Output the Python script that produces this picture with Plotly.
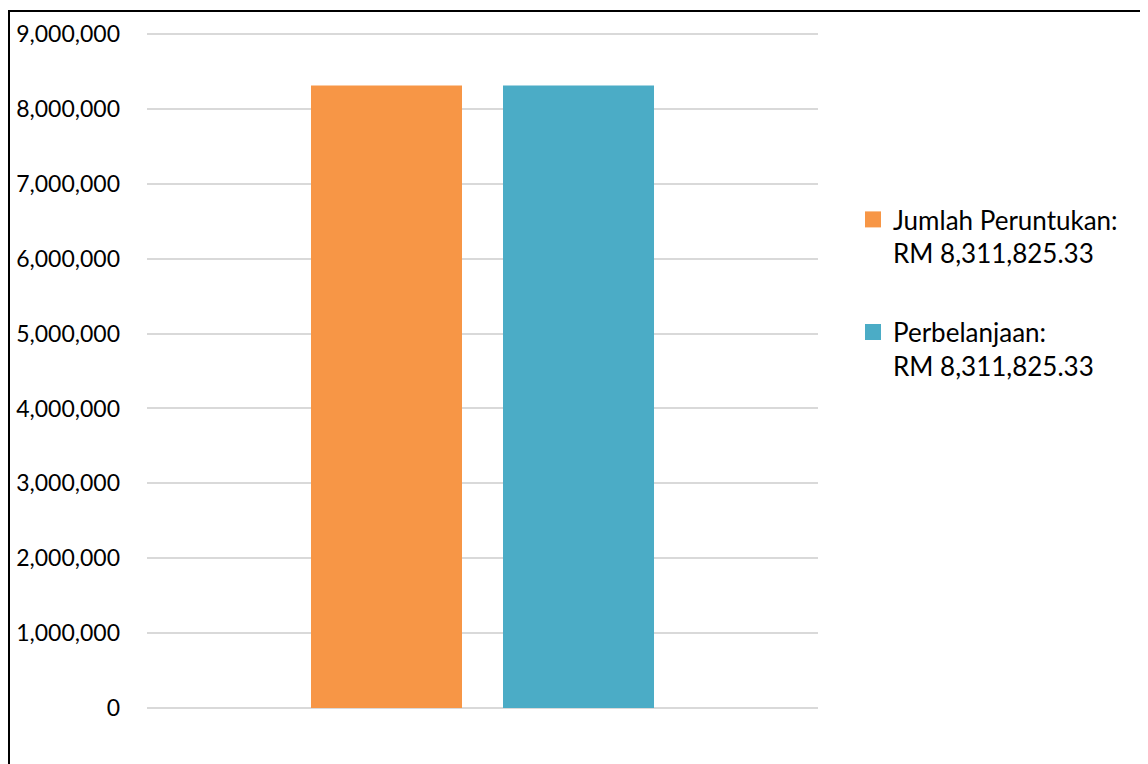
import plotly.graph_objects as go

categories = [""]
series_names = ["Jumlah Peruntukan:<br>RM 8,311,825.33", "Perbelanjaan:<br>RM 8,311,825.33"]
series_values = [[8311825.33], [8311825.33]]
series_colors = ["#F79646", "#4BACC6"]
tick_values = [0, 1000000, 2000000, 3000000, 4000000, 5000000, 6000000, 7000000, 8000000, 9000000]
tick_labels = ["0", "1,000,000", "2,000,000", "3,000,000", "4,000,000", "5,000,000",
               "6,000,000", "7,000,000", "8,000,000", "9,000,000"]

# page is rendered with an 8px body offset; figure sized to fit the window without scrollbars
W, H = 1140, 756
L, R, T, B = 139, 330, 23, 56
pw, ph = W - L - R, H - T - B

fig = go.Figure()
for i, (name, vals, col) in enumerate(zip(series_names, series_values, series_colors)):
    fig.add_trace(go.Bar(x=categories, y=vals, name=name, marker=dict(color=col, line=dict(width=0)),
                         legendgroup=f"g{i}", showlegend=False, hoverinfo="skip"))
    # legend entry with a larger square swatch
    fig.add_trace(go.Scatter(x=[None], y=[None], mode="markers", name=name,
                             marker=dict(symbol="square", size=16, color=col, line=dict(width=0)),
                             legendgroup=f"g{i}", showlegend=True, hoverinfo="skip"))

fig.update_layout(
    width=W, height=H,
    margin=dict(l=L, r=R, t=T, b=B, pad=0, autoexpand=False),
    paper_bgcolor="white", plot_bgcolor="white",
    barmode="group", bargap=0.4277, bargroupgap=0.2135,
    font=dict(family="Lato, Open Sans, sans-serif", size=23, color="#000000"),
    showlegend=True,
    legend=dict(x=(845 - L) / pw, xanchor="left", y=(H - B - 188) / ph, yanchor="top",
                valign="top", tracegroupgap=42, font=dict(size=26, color="#000000"),
                bgcolor="rgba(0,0,0,0)", itemwidth=30),
    xaxis=dict(showticklabels=False, showgrid=False, zeroline=False, showline=False, ticks="",
               automargin=False),
    yaxis=dict(range=[0, 9040000], tickmode="array", tickvals=tick_values, ticktext=tick_labels,
               showgrid=True, gridcolor="#D9D9D9", gridwidth=1.5, zeroline=True,
               zerolinecolor="#D9D9D9", zerolinewidth=1.5, showline=False, ticks="",
               ticklabelstandoff=26, tickfont=dict(size=23, color="#000000"), automargin=False),
    shapes=[dict(type="rect", xref="paper", yref="paper",
                 x0=(1 - L) / pw, x1=(W + 20 - L) / pw,
                 y0=-(H + 20 - (H - B)) / ph, y1=1 + (T - 3) / ph,
                 line=dict(color="#000000", width=2), fillcolor="rgba(0,0,0,0)", layer="above")],
)

fig.write_html("out.html")
